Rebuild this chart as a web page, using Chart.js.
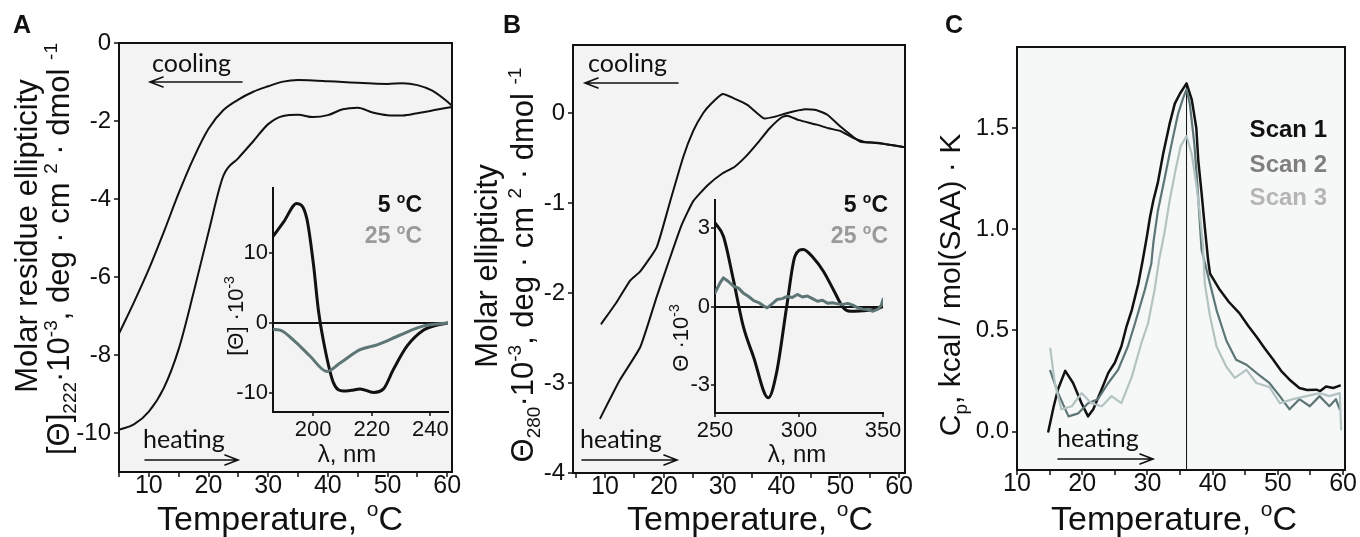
<!DOCTYPE html>
<html>
<head>
<meta charset="utf-8">
<script src="https://cdn.jsdelivr.net/npm/chart.js@4.4.1/dist/chart.umd.min.js"></script>
<style>
  html, body { margin: 0; padding: 0; background: #fff; }
  #wrap { position: relative; width: 1360px; height: 537px; overflow: hidden; }
  #wrap canvas { position: absolute; left: 0; top: 0; }
</style>
</head>
<body>
<div id="wrap">
  <canvas id="chartA" width="1360" height="537"></canvas>
  <canvas id="insetA" width="1360" height="537"></canvas>
  <canvas id="chartB" width="1360" height="537"></canvas>
  <canvas id="insetB" width="1360" height="537"></canvas>
  <canvas id="chartC" width="1360" height="537"></canvas>
</div>
<script>
// ---------- data ----------

// A: [Θ]222 vs temperature
const aTemp = [5, 7.5, 10, 12.5, 15, 17.5, 20, 22.5, 25, 27.5, 30, 32.5, 35, 37.5, 40, 42.5, 45, 47.5, 50, 52.5, 55, 57.5, 60, 61];
const aCooling = [-7.45, -6.65, -5.8, -4.85, -3.85, -2.95, -2.2, -1.72, -1.45, -1.25, -1.11, -0.99, -0.95, -0.96, -0.98, -1.0, -1.02, -1.04, -1.05, -1.03, -1.08, -1.22, -1.5, -1.64];
const aHeating = [-9.92, -9.78, -9.45, -8.85, -7.85, -6.4, -4.85, -3.4, -2.95, -2.52, -2.08, -1.87, -1.84, -1.9, -1.85, -1.7, -1.66, -1.78, -1.85, -1.86, -1.8, -1.73, -1.66, -1.64];
const aXTicks = [5, 10, 15, 20, 25, 30, 35, 40, 45, 50, 55, 60];
const aXLabels = [10, 20, 30, 40, 50, 60];
const aYTicks = [0, -2, -4, -6, -8, -10];

// A inset: far-UV CD spectra
const iaWave5 = [186, 190, 194.4, 197.8, 200.1, 201.8, 204.1, 206.9, 210.3, 213, 216, 220.6, 224, 227.4, 232, 237.7, 242, 246];
const iaEll5 = [12.2, 14.5, 17.1, 15.0, 8.4, 1.8, -3.8, -8.5, -9.7, -9.6, -9.4, -9.9, -9.4, -6.6, -3.3, -1.0, -0.3, 0.0];
const iaWave25 = [186, 188.7, 193.2, 198.9, 204.7, 209.2, 216, 221.8, 229.7, 237.7, 246];
const iaEll25 = [-0.9, -1.0, -2.4, -4.7, -6.9, -5.7, -3.8, -3.1, -1.7, -0.4, 0.0];
const iaXTicks = [200, 220, 240];
const iaYTicks = [-10, 0, 10];

// B: Θ280 vs temperature
const bTemp1 = [9.4, 12, 14.3, 16, 18.8, 21, 23.3, 25, 26.7, 28, 30, 32, 34.2, 37, 39, 41, 44, 46, 47.8, 50, 53.4, 56.3, 58, 61];
const bEll1 = [-2.34, -2.1, -1.86, -1.76, -1.49, -1.0, -0.49, -0.2, 0.0, 0.1, 0.21, 0.16, 0.09, -0.06, -0.04, 0.0, 0.04, 0.03, -0.02, -0.15, -0.32, -0.33, -0.35, -0.38];
const bTemp2 = [9.2, 12.5, 16, 18.8, 21, 23, 25, 27.5, 30, 32, 34, 36, 38, 40, 41, 43, 46, 48, 50, 52, 54, 57, 61];
const bEll2 = [-3.39, -2.97, -2.6, -2.04, -1.62, -1.25, -0.98, -0.8, -0.67, -0.6, -0.48, -0.33, -0.17, -0.05, -0.03, -0.08, -0.13, -0.17, -0.2, -0.27, -0.32, -0.34, -0.38];
const bXTicks = [5, 10, 15, 20, 25, 30, 35, 40, 45, 50, 55, 60];
const bXLabels = [10, 20, 30, 40, 50, 60];
const bYTicks = [0, -1, -2, -3, -4];

// B inset: near-UV CD spectra
const ibWave5 = [250, 255, 260.9, 266.8, 272.8, 281.7, 286.7, 292.7, 297.6, 302.6, 308.5, 314.5, 320.4, 326.4, 330.4, 340.3, 348.2, 350];
const ibEll5 = [3.18, 2.67, 1.03, -0.75, -1.89, -3.47, -2.5, 0.01, 1.91, 2.17, 1.85, 1.34, 0.65, -0.05, -0.18, -0.15, -0.05, 0.0];
const ibWave25 = [250, 253, 255, 258, 261, 264, 267, 270, 273, 276, 279, 281, 284, 287, 290, 293, 296, 299, 302, 305, 308, 311, 314, 317, 320, 323, 326, 329, 332, 335, 338, 341, 344, 347, 349, 350];
const ibEll25 = [0.52, 0.9, 1.09, 0.95, 0.77, 0.7, 0.5, 0.38, 0.22, 0.15, 0.02, -0.05, 0.1, 0.27, 0.3, 0.38, 0.34, 0.46, 0.36, 0.4, 0.3, 0.2, 0.24, 0.12, 0.14, 0.1, 0.08, 0.12, 0.05, -0.05, -0.1, -0.12, -0.18, -0.1, 0.05, 0.27];
const ibXTicks = [250, 300, 350];
const ibYTicks = [-3, 0, 3];

// C: DSC scans
const cTemp1 = [14.8, 15.6, 16.3, 17.4, 18.6, 19.9, 20.9, 21.7, 23.0, 24.0, 25.0, 26.0, 26.8, 27.6, 28.6, 29.3, 29.9, 30.4, 30.9, 31.6, 32.4, 33.4, 34.2, 35.0, 36.0, 36.8, 37.5, 37.8, 38.3, 38.8, 39.3, 39.6, 41.1, 42.5, 44.1, 45.5, 46.7, 48.0, 49.3, 50.5, 51.8, 53.3, 54.5, 55.9, 56.5, 57.4, 58.5, 59.5];
const cScan1 = [0.0, 0.12, 0.21, 0.30, 0.24, 0.14, 0.075, 0.11, 0.21, 0.29, 0.34, 0.42, 0.52, 0.60, 0.73, 0.85, 0.96, 1.06, 1.14, 1.23, 1.37, 1.52, 1.62, 1.67, 1.72, 1.64, 1.50, 1.34, 1.18, 1.01, 0.85, 0.78, 0.70, 0.64, 0.585, 0.52, 0.47, 0.41, 0.355, 0.30, 0.256, 0.215, 0.205, 0.207, 0.20, 0.223, 0.215, 0.227];
const cTemp2 = [15.1, 16.3, 17.9, 19.4, 20.9, 22.4, 24.0, 25.5, 27.0, 28.1, 29.6, 30.6, 30.9, 31.6, 32.7, 33.7, 34.7, 35.5, 36.0, 36.5, 37.2, 37.7, 38.3, 39.6, 40.6, 42.1, 43.6, 45.2, 46.7, 48.7, 50.3, 51.8, 53.3, 54.9, 56.4, 57.9, 58.9, 59.5];
const cScan2 = [0.30, 0.19, 0.075, 0.09, 0.14, 0.16, 0.24, 0.305, 0.42, 0.535, 0.70, 0.83, 0.93, 1.09, 1.26, 1.42, 1.57, 1.65, 1.69, 1.62, 1.42, 1.20, 0.90, 0.73, 0.60, 0.45, 0.355, 0.33, 0.29, 0.24, 0.175, 0.11, 0.16, 0.125, 0.175, 0.125, 0.16, 0.11];
const cTemp3 = [15.1, 15.8, 16.8, 18.4, 19.9, 21.4, 23.0, 24.5, 26.0, 27.6, 29.1, 30.1, 31.1, 31.8, 32.6, 33.4, 34.3, 35.1, 36.0, 36.8, 37.5, 38.0, 38.5, 38.8, 39.6, 40.6, 42.1, 43.4, 45.2, 46.7, 48.7, 50.3, 52.3, 54.4, 56.4, 57.9, 59.5, 59.7];
const cScan3 = [0.41, 0.24, 0.11, 0.125, 0.19, 0.14, 0.125, 0.175, 0.14, 0.27, 0.44, 0.535, 0.70, 0.85, 0.98, 1.14, 1.29, 1.41, 1.46, 1.37, 1.22, 1.09, 0.93, 0.73, 0.57, 0.42, 0.32, 0.265, 0.305, 0.24, 0.22, 0.14, 0.16, 0.175, 0.19, 0.175, 0.19, 0.01];
const cTm = 36;
const cTmTop = 1.72;
const cXTicks = [10, 15, 20, 25, 30, 35, 40, 45, 50, 55, 60];
const cXLabels = [10, 20, 30, 40, 50, 60];
const cYTicks = [0, 0.5, 1.0, 1.5];
const cScanNames = ['Scan 1', 'Scan 2', 'Scan 3'];

// ---------- drawing helpers ----------
const W = 1360, H = 537;
const SANS = "'Liberation Sans', Arial, Helvetica, sans-serif";
const HAND = "Lato, 'Open Sans', sans-serif";
const INK = '#111';
const TEAL = '#5d7675';
const PALE = '#b3c3c2';

const pts = (xs, ys) => xs.map((x, i) => ({x, y: ys[i]}));

function axis(pos, min, max, ticks, labels, o) {
  const horiz = pos === 'bottom';
  return {
    type: 'linear', position: pos, min, max,
    afterBuildTicks: s => { s.ticks = ticks.map(v => ({value: v})); },
    afterFit: s => {
      if (horiz) s.height = o.size; else s.width = o.size;
      s.paddingLeft = 0; s.paddingRight = 0; s.paddingTop = 0; s.paddingBottom = 0;
    },
    ticks: {
      autoSkip: false, maxRotation: 0, minRotation: 0, padding: o.pad, color: INK,
      font: {family: SANS, size: o.font, lineHeight: 1},
      callback: v => labels.includes(v) ? (o.fmt ? o.fmt(v) : String(v)) : ''
    },
    grid: {
      drawOnChartArea: !!o.zero, drawTicks: true, tickLength: o.tl, tickColor: INK, tickWidth: 1.5,
      color: o.zero ? (c => (c.tick && c.tick.value === 0 ? INK : 'rgba(0,0,0,0)')) : INK,
      lineWidth: 2
    },
    border: {display: true, color: INK, width: 2}
  };
}

function plot(id, area, yw, xh, datasets, scales) {
  return new Chart(document.getElementById(id), {
    type: 'line',
    data: {datasets},
    options: {
      responsive: false, animation: false, devicePixelRatio: 1,
      layout: {padding: {left: area.l - yw, top: area.t, right: W - area.r, bottom: H - area.b - xh}},
      scales,
      plugins: {legend: {display: false}, tooltip: {enabled: false}},
      elements: {point: {radius: 0}}
    }
  });
}

function line(data, color, width, smooth) {
  const d = {data, borderColor: color, borderWidth: width, fill: false, pointRadius: 0,
             borderJoinStyle: 'round', borderCapStyle: 'round'};
  if (smooth === 'mono') d.cubicInterpolationMode = 'monotone'; else d.tension = smooth || 0;
  return d;
}

function drawRich(ctx, it) {
  const parts = typeof it.t === 'string' ? [[it.t, '']] : it.t;
  const fam = it.family || SANS;
  const wt = it.bold ? 'bold ' : '';
  const fontFor = m => wt + Math.round(m ? it.size * 0.62 : it.size) + 'px ' + fam;
  ctx.save();
  ctx.translate(it.x, it.y);
  if (it.rot) ctx.rotate(it.rot * Math.PI / 180);
  let w = 0;
  parts.forEach(([s, m]) => { ctx.font = fontFor(m); w += ctx.measureText(s).width; });
  let x = it.align === 'right' ? -w : it.align === 'center' ? -w / 2 : 0;
  ctx.fillStyle = it.color || INK;
  ctx.textBaseline = 'alphabetic';
  parts.forEach(([s, m]) => {
    ctx.font = fontFor(m);
    const dy = m === 'sup' ? -it.size * 0.4 : m === 'sub' ? it.size * 0.22 : 0;
    ctx.fillText(s, x, dy);
    x += ctx.measureText(s).width;
  });
  ctx.restore();
}

function drawArrow(ctx, it) {
  const dir = Math.sign(it.x2 - it.x1);
  ctx.save();
  ctx.strokeStyle = INK; ctx.lineWidth = 1.6; ctx.lineCap = 'round';
  ctx.beginPath();
  ctx.moveTo(it.x1, it.y); ctx.lineTo(it.x2, it.y);
  ctx.moveTo(it.x2 - dir * 13, it.y - 5); ctx.lineTo(it.x2, it.y); ctx.lineTo(it.x2 - dir * 13, it.y + 5);
  ctx.stroke();
  ctx.restore();
}

const degC = (n) => [[n + ' ', ''], ['o', 'sup'], ['C', '']];
const tempTitle = [['Temperature, ', ''], ['o', 'sup'], ['C', '']];

// annotations per canvas (page coordinates)
const notes = {
  chartA: {
    bg: '#f3f3f3', frame: true,
    items: [
      {x: 13, y: 33, t: 'A', size: 25, bold: true},
      {x: 152, y: 72, t: 'cooling', size: 25, family: HAND},
      {kind: 'arrow', x1: 242, x2: 150, y: 82},
      {x: 143, y: 448, t: 'heating', size: 25, family: HAND},
      {kind: 'arrow', x1: 145, x2: 238, y: 460},
      {x: 37, y: 236, rot: -90, align: 'center', size: 31, t: 'Molar residue ellipticity'},
      {x: 69, y: 249, rot: -90, align: 'center', size: 31,
       t: [['[Θ]', ''], ['222', 'sub'], ['·10', ''], ['-3', 'sup'], [', deg · cm ', ''], ['2', 'sup'], [' · dmol ', ''], ['-1', 'sup']]},
      {x: 280, y: 530, align: 'center', size: 34, t: tempTitle}
    ]
  },
  insetA: {
    items: [
      {x: 422, y: 212, align: 'right', size: 23, bold: true, t: degC('5')},
      {x: 422, y: 243, align: 'right', size: 23, bold: true, color: '#9a9a9a', t: degC('25')},
      {x: 243, y: 316, rot: -90, align: 'center', size: 22, t: [['[Θ] ·10', ''], ['-3', 'sup']]},
      {x: 347, y: 462, align: 'center', size: 24, t: 'λ, nm'}
    ]
  },
  chartB: {
    bg: '#f3f3f3', frame: true,
    items: [
      {x: 503, y: 33, t: 'B', size: 25, bold: true},
      {x: 588, y: 72, t: 'cooling', size: 25, family: HAND},
      {kind: 'arrow', x1: 678, x2: 585, y: 83},
      {x: 580, y: 448, t: 'heating', size: 25, family: HAND},
      {kind: 'arrow', x1: 582, x2: 677, y: 460},
      {x: 497, y: 266, rot: -90, align: 'center', size: 31, t: 'Molar ellipticity'},
      {x: 533, y: 265, rot: -90, align: 'center', size: 31,
       t: [['Θ', ''], ['280', 'sub'], ['·10', ''], ['-3', 'sup'], [', deg · cm ', ''], ['2', 'sup'], [' · dmol ', ''], ['-1', 'sup']]},
      {x: 750, y: 530, align: 'center', size: 34, t: tempTitle}
    ]
  },
  insetB: {
    items: [
      {x: 888, y: 212, align: 'right', size: 23, bold: true, t: degC('5')},
      {x: 888, y: 243, align: 'right', size: 23, bold: true, color: '#9a9a9a', t: degC('25')},
      {x: 688, y: 338, rot: -90, align: 'center', size: 22, t: [['Θ ·10', ''], ['-3', 'sup']]},
      {x: 797, y: 462, align: 'center', size: 24, t: 'λ, nm'}
    ]
  },
  chartC: {
    bg: '#f6f8f8', frame: true,
    items: [
      {x: 945, y: 33, t: 'C', size: 25, bold: true},
      {x: 1327, y: 137, align: 'right', size: 24, bold: true, t: cScanNames[0]},
      {x: 1327, y: 172, align: 'right', size: 24, bold: true, color: '#7f7f7f', t: cScanNames[1]},
      {x: 1327, y: 205, align: 'right', size: 24, bold: true, color: '#b5b5b5', t: cScanNames[2]},
      {x: 1057, y: 447, t: 'heating', size: 25, family: HAND},
      {kind: 'arrow', x1: 1058, x2: 1153, y: 459},
      {x: 960, y: 285, rot: -90, align: 'center', size: 30,
       t: [['C', ''], ['p', 'sub'], [', kcal / mol(SAA) · K', '']]},
      {x: 1174, y: 530, align: 'center', size: 34, t: tempTitle}
    ]
  }
};

Chart.register({
  id: 'notes',
  beforeDraw(chart) {
    const n = notes[chart.canvas.id];
    if (!n || !n.bg) return;
    const a = chart.chartArea, ctx = chart.ctx;
    ctx.save();
    ctx.fillStyle = n.bg;
    ctx.fillRect(a.left, a.top, a.right - a.left, a.bottom - a.top);
    ctx.restore();
  },
  afterDraw(chart) {
    const n = notes[chart.canvas.id];
    if (!n) return;
    const a = chart.chartArea, ctx = chart.ctx;
    if (n.frame) {
      ctx.save();
      ctx.strokeStyle = INK; ctx.lineWidth = 2;
      ctx.strokeRect(a.left, a.top, a.right - a.left, a.bottom - a.top);
      ctx.restore();
    }
    n.items.forEach(it => (it.kind === 'arrow' ? drawArrow(ctx, it) : drawRich(ctx, it)));
  }
});

// ---------- charts ----------
const mainY = {pad: 3, tl: 5, font: 24, size: 52};
const mainX = {pad: -3, tl: 5, font: 25, size: 45};

plot('chartA', {l: 119, t: 43, r: 452, b: 472}, 52, 45, [
  line(pts(aTemp, aCooling), INK, 2, 'mono'),
  line(pts(aTemp, aHeating), INK, 2, 'mono')
], {
  x: axis('bottom', 5, 60.8, aXTicks, aXLabels, mainX),
  y: axis('left', -11, 0, aYTicks, aYTicks, mainY)
});

plot('insetA', {l: 273, t: 188, r: 448, b: 412}, 45, 35, [
  line(pts(iaWave25, iaEll25), TEAL, 3, 'mono'),
  line(pts(iaWave5, iaEll5), INK, 3, 'mono')
], {
  x: axis('bottom', 186.3, 246, iaXTicks, iaXTicks, {pad: 3, tl: 4, font: 22, size: 35}),
  y: axis('left', -12.7, 19.3, iaYTicks, iaYTicks, {pad: 1, tl: 4, font: 22, size: 45, zero: true})
});

plot('chartB', {l: 573, t: 45, r: 905, b: 473}, 52, 45, [
  line(pts(bTemp1, bEll1), INK, 2, 0.15),
  line(pts(bTemp2, bEll2), INK, 2, 0.15)
], {
  x: axis('bottom', 4.56, 61, bXTicks, bXLabels, mainX),
  y: axis('left', -4, 0.755, bYTicks, bYTicks, mainY)
});

plot('insetB', {l: 715, t: 200, r: 883, b: 413}, 40, 35, [
  line(pts(ibWave25, ibEll25), TEAL, 3, 0),
  line(pts(ibWave5, ibEll5), INK, 3, 'mono')
], {
  x: axis('bottom', 250, 350, ibXTicks, ibXTicks, {pad: 3, tl: 4, font: 22, size: 35}),
  y: axis('left', -4.05, 4.05, ibYTicks, ibYTicks, {pad: 1, tl: 4, font: 22, size: 40, zero: true})
});

const cYMin = -0.19;
plot('chartC', {l: 1017, t: 47, r: 1345, b: 470}, 60, 45, [
  line(pts(cTemp3, cScan3), PALE, 2.2, 0),
  line(pts(cTemp2, cScan2), TEAL, 2.2, 0),
  line(pts(cTemp1, cScan1), INK, 2.5, 0),
  line([{x: cTm, y: cYMin}, {x: cTm, y: cTmTop}], INK, 1, 0)
], {
  x: axis('bottom', 10, 60.3, cXTicks, cXLabels, mainX),
  y: axis('left', cYMin, 1.9, cYTicks, cYTicks, {pad: 3, tl: 5, font: 24, size: 60, fmt: v => v.toFixed(1)})
});
</script>
</body>
</html>
